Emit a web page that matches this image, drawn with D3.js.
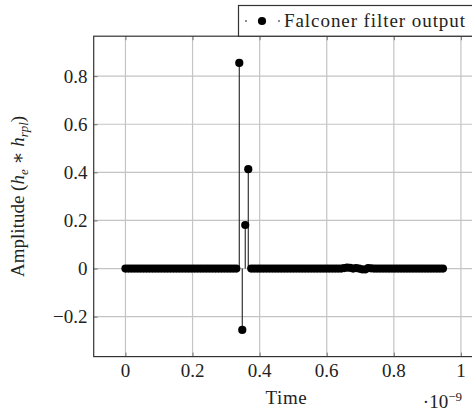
<!DOCTYPE html>
<html>
<head>
<meta charset="utf-8">
<script src="https://cdn.jsdelivr.net/npm/d3@7"></script>
<style>
  body { margin: 0; background: #fff; }
  svg { display: block; }
  text { font-family: "Liberation Serif", "DejaVu Serif", serif; }
</style>
</head>
<body>
<svg id="chart" width="472" height="414"></svg>
<script>
// Sample instants of the filter output, in units of 1e-9 s
const sampleTimes = [
  0.0000, 0.0089, 0.0179, 0.0268, 0.0357, 0.0446, 0.0536, 0.0625, 0.0714, 0.0804,
  0.0893, 0.0982, 0.1071, 0.1161, 0.1250, 0.1339, 0.1429, 0.1518, 0.1607, 0.1696,
  0.1786, 0.1875, 0.1964, 0.2054, 0.2143, 0.2232, 0.2321, 0.2411, 0.2500, 0.2589,
  0.2679, 0.2768, 0.2857, 0.2946, 0.3036, 0.3125, 0.3214, 0.3304, 0.3393, 0.3482,
  0.3571, 0.3661, 0.3750, 0.3839, 0.3929, 0.4018, 0.4107, 0.4196, 0.4286, 0.4375,
  0.4464, 0.4554, 0.4643, 0.4732, 0.4821, 0.4911, 0.5000, 0.5089, 0.5179, 0.5268,
  0.5357, 0.5446, 0.5536, 0.5625, 0.5714, 0.5804, 0.5893, 0.5982, 0.6071, 0.6161,
  0.6250, 0.6339, 0.6429, 0.6518, 0.6607, 0.6696, 0.6786, 0.6875, 0.6964, 0.7054,
  0.7143, 0.7232, 0.7321, 0.7411, 0.7500, 0.7589, 0.7679, 0.7768, 0.7857, 0.7946,
  0.8036, 0.8125, 0.8214, 0.8304, 0.8393, 0.8482, 0.8571, 0.8661, 0.8750, 0.8839,
  0.8929, 0.9018, 0.9107, 0.9196, 0.9286, 0.9375, 0.9464
];

// Output amplitude h_e * h_rpl at each sample
const amplitudes = [
  0, 0, 0, 0, 0, 0, 0, 0, 0, 0,
  0, 0, 0, 0, 0, 0, 0, 0, 0, 0,
  0, 0, 0, 0, 0, 0, 0, 0, 0, 0,
  0, 0, 0, 0, 0, 0, 0, 0, 0.855, -0.255,
  0.181, 0.413, 0, 0, 0, 0, 0, 0, 0, 0,
  0, 0, 0, 0, 0, 0, 0, 0, 0, 0,
  0, 0, 0, 0, 0, 0, 0, 0, 0, 0,
  0, 0, 0, 0.002, 0.004, 0.003, 0, 0.002, 0, -0.003,
  -0.004, 0.002, 0.001, 0, 0, 0, 0, 0, 0, 0,
  0, 0, 0, 0, 0, 0, 0, 0, 0, 0,
  0, 0, 0, 0, 0, 0, 0
];

const xTicks = [0, 0.2, 0.4, 0.6, 0.8, 1];
const yTicks = [-0.2, 0, 0.2, 0.4, 0.6, 0.8];
const seriesName = "Falconer filter output";
const xTitle = "Time";
const xMultiplierExp = "−9";

const FONT = "Liberation Serif";
const labelSize = 19;
const svg = d3.select("#chart");
const frame = { left: 93.7, right: 474.7, top: 36.2, bottom: 356.6 };

// Axis limits widened by 10% of the data range on both ends
const xExt = d3.extent(sampleTimes);
const yExt = d3.extent(amplitudes);
const xPad = (xExt[1] - xExt[0]) * 0.1;
const yPad = (yExt[1] - yExt[0]) * 0.1;

const x = d3.scaleLinear().domain([xExt[0] - xPad, xExt[1] + xPad]).range([frame.left, frame.right]);
const y = d3.scaleLinear().domain([yExt[0] - yPad, yExt[1] + yPad]).range([frame.bottom, frame.top]);

const fmt = v => (v < 0 ? "−" : "") + d3.format("")(Math.abs(+v.toFixed(1)));

// Grid
const grid = svg.append("g").attr("stroke", "#c4c4c4").attr("stroke-width", 1.2);
grid.selectAll(".gx").data(xTicks).join("line")
  .attr("x1", d => x(d)).attr("x2", d => x(d))
  .attr("y1", frame.top).attr("y2", frame.bottom);
grid.selectAll(".gy").data(yTicks).join("line")
  .attr("x1", frame.left).attr("x2", frame.right)
  .attr("y1", d => y(d)).attr("y2", d => y(d));

// Inward tick marks via d3 axes
const tickStyle = g => {
  g.select(".domain").remove();
  g.selectAll(".tick line").attr("stroke", "#777").attr("stroke-width", 1);
  g.selectAll(".tick text").remove();
};
svg.append("g").attr("transform", `translate(0,${frame.bottom})`)
  .call(d3.axisTop(x).tickValues(xTicks).tickSize(4)).call(tickStyle);
svg.append("g").attr("transform", `translate(0,${frame.top})`)
  .call(d3.axisBottom(x).tickValues(xTicks).tickSize(4)).call(tickStyle);
svg.append("g").attr("transform", `translate(${frame.left},0)`)
  .call(d3.axisRight(y).tickValues(yTicks).tickSize(4)).call(tickStyle);

// Stems and markers
const pts = sampleTimes.map((t, i) => ({ t, a: amplitudes[i] }));
svg.append("g").attr("stroke", "#222").attr("stroke-width", 1.1)
  .selectAll("line").data(pts.filter(p => p.a !== 0)).join("line")
  .attr("x1", p => x(p.t)).attr("x2", p => x(p.t))
  .attr("y1", y(0)).attr("y2", p => y(p.a));
svg.append("g").attr("fill", "#000")
  .selectAll("circle").data(pts).join("circle")
  .attr("cx", p => x(p.t)).attr("cy", p => y(p.a)).attr("r", 4.1);

// Axis frame
svg.append("rect")
  .attr("x", frame.left).attr("y", frame.top)
  .attr("width", frame.right - frame.left).attr("height", frame.bottom - frame.top)
  .attr("fill", "none").attr("stroke", "#333").attr("stroke-width", 1.2);

// Tick labels
svg.append("g").attr("font-family", FONT).attr("font-size", labelSize).attr("fill", "#222").attr("text-anchor", "middle")
  .selectAll("text").data(xTicks).join("text")
  .attr("x", d => x(d)).attr("y", 377).text(fmt);
svg.append("g").attr("font-family", FONT).attr("font-size", labelSize).attr("fill", "#222").attr("text-anchor", "end")
  .selectAll("text").data(yTicks).join("text")
  .attr("x", 87.5).attr("y", d => y(d)).attr("dy", "0.34em").text(fmt);

// Axis titles
svg.append("text").attr("x", x(0.48)).attr("y", 404).attr("font-family", FONT).attr("font-size", labelSize)
  .attr("text-anchor", "middle").attr("fill", "#222").attr("letter-spacing", 0.6).text(xTitle);

const mult = svg.append("text").attr("x", 462).attr("y", 408).attr("font-family", FONT).attr("font-size", labelSize)
  .attr("text-anchor", "end").attr("fill", "#222");
mult.append("tspan").text("·10");
mult.append("tspan").attr("font-size", 13).attr("dy", -7).text(xMultiplierExp);

const yTitle = svg.append("text")
  .attr("transform", `translate(24,${(frame.top + frame.bottom) / 2}) rotate(-90)`)
  .attr("font-family", FONT).attr("font-size", labelSize).attr("text-anchor", "middle").attr("fill", "#222");
yTitle.append("tspan").text("Amplitude (");
yTitle.append("tspan").attr("font-style", "italic").text("h");
yTitle.append("tspan").attr("font-style", "italic").attr("font-size", 13).attr("dy", 4).text("e");
yTitle.append("tspan").attr("dy", -4).text(" ∗ ");
yTitle.append("tspan").attr("font-style", "italic").text("h");
yTitle.append("tspan").attr("font-style", "italic").attr("font-size", 13).attr("dy", 4).text("rpl");
yTitle.append("tspan").attr("dy", -4).text(")");

// Legend
const lg = svg.append("g");
lg.append("rect").attr("x", 238.5).attr("y", 5.5).attr("width", 240).attr("height", frame.top - 5.5)
  .attr("fill", "#fff").attr("stroke", "#333").attr("stroke-width", 1.2);
lg.append("circle").attr("cx", 246).attr("cy", 21).attr("r", 1).attr("fill", "#666");
lg.append("circle").attr("cx", 262).attr("cy", 21).attr("r", 4.1).attr("fill", "#000");
lg.append("circle").attr("cx", 279).attr("cy", 21).attr("r", 1).attr("fill", "#666");
lg.append("text").attr("x", 284).attr("y", 27).attr("font-family", FONT).attr("font-size", labelSize).attr("fill", "#222")
  .attr("textLength", 181).attr("lengthAdjust", "spacing")
  .text(seriesName);
</script>
</body>
</html>
